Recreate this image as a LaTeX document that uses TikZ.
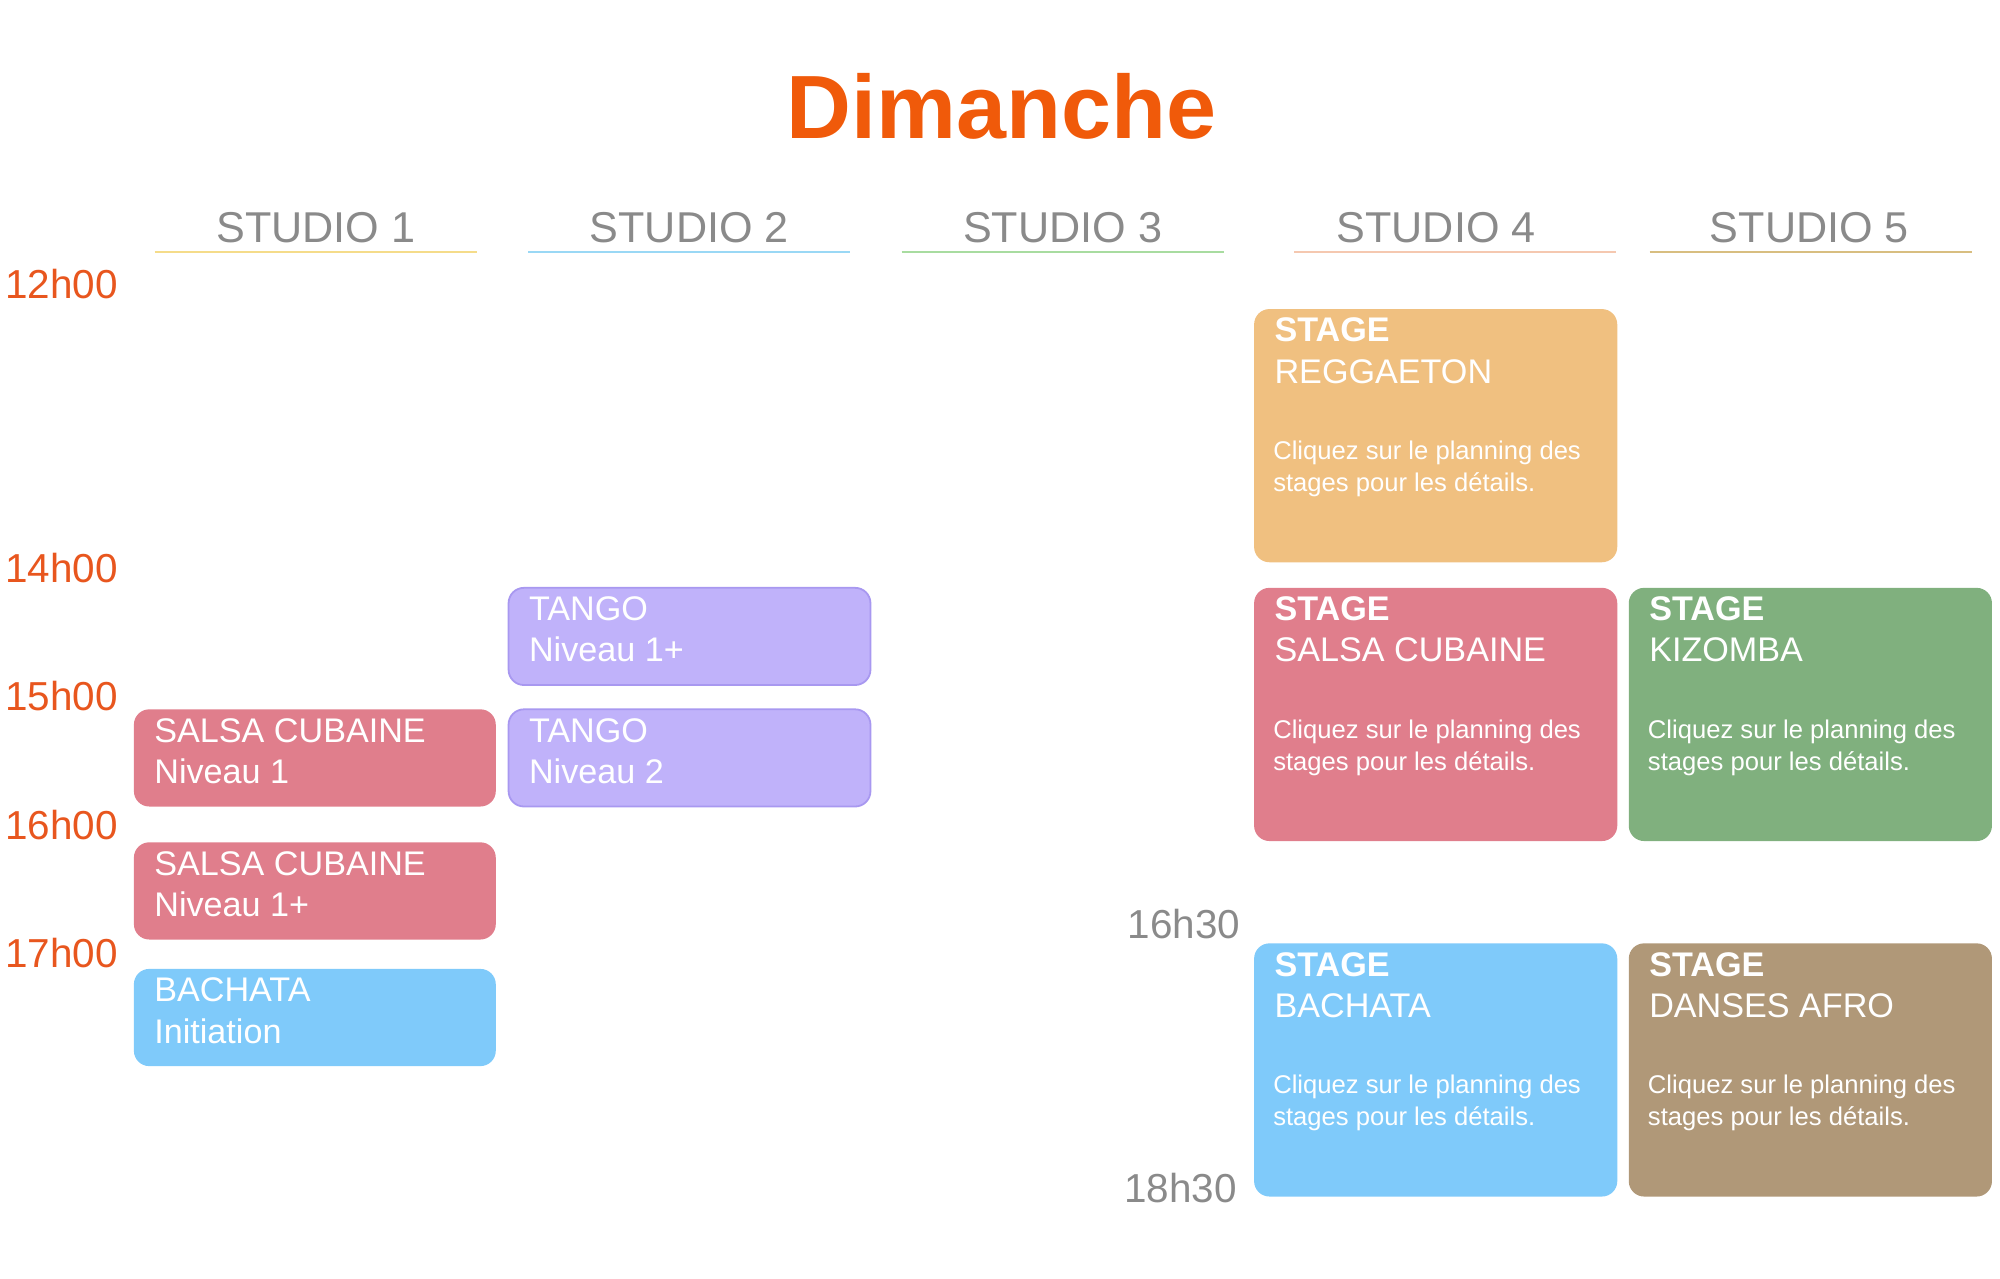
\documentclass[tikz,border=0pt]{standalone}
\usepackage{fontspec}
\setmainfont{Liberation Sans}
\usepackage{xcolor}
\usetikzlibrary{positioning}

\definecolor{titleorange}{HTML}{F05A0A}
\definecolor{hourorange}{HTML}{E8561E}
\definecolor{headgray}{HTML}{8A8A8A}
\definecolor{lineone}{HTML}{F5DC8A}
\definecolor{linetwo}{HTML}{9AD8F5}
\definecolor{linethree}{HTML}{A8DCA0}
\definecolor{linefour}{HTML}{F5C8B0}
\definecolor{linefive}{HTML}{D8BE80}
\definecolor{salsacol}{HTML}{E07E8C}
\definecolor{tangocol}{HTML}{C0B2FA}
\definecolor{tangoedge}{HTML}{A898F0}
\definecolor{bachatacol}{HTML}{7FCAFA}
\definecolor{reggaecol}{HTML}{F0C080}
\definecolor{kizcol}{HTML}{80B07E}
\definecolor{afrocol}{HTML}{B09878}

\begin{document}
\begin{tikzpicture}[
        x=1cm, y=1cm,
        studio/.style={text=headgray, font=\fontsize{9.6}{11}\selectfont},
        hour/.style={text=hourorange, font=\fontsize{9}{11}\selectfont},
        endhour/.style={text=headgray, font=\fontsize{9}{11}\selectfont},
        slot/.style={rectangle, rounded corners=0.12cm, anchor=north west, minimum width=2.83cm, minimum height=0.76cm, inner sep=0pt},
        stagebox/.style={rectangle, rounded corners=0.12cm, anchor=north west, minimum width=2.84cm, minimum height=1.98cm, inner sep=0pt},
        slottext/.style={anchor=north west, text=white, align=left, inner sep=0pt, font=\fontsize{7.6}{9.2}\selectfont},
        notetext/.style={anchor=north west, text=white, align=left, inner sep=0pt, font=\fontsize{5.7}{7.2}\selectfont}
    ]
        \useasboundingbox (0,0) rectangle (15.64,-10);

        % Title
        \node [text=titleorange, font=\bfseries\fontsize{20}{24}\selectfont] (title) at (7.83,-0.83) {Dimanche};

        % Studios
        \node [studio] (st1) at (2.47,-1.78) {STUDIO 1};
        \node [studio] (st2) at (5.39,-1.78) {STUDIO 2};
        \node [studio] (st3) at (8.31,-1.78) {STUDIO 3};
        \node [studio] (st4) at (11.23,-1.78) {STUDIO 4};
        \node [studio] (st5) at (14.15,-1.78) {STUDIO 5};
        \draw [lineone, line width=0.6pt] (1.21,-1.97) -- (3.73,-1.97);
        \draw [linetwo, line width=0.6pt] (4.13,-1.97) -- (6.65,-1.97);
        \draw [linethree, line width=0.6pt] (7.05,-1.97) -- (9.57,-1.97);
        \draw [linefour, line width=0.6pt] (10.12,-1.97) -- (12.64,-1.97);
        \draw [linefive, line width=0.6pt] (12.90,-1.97) -- (15.42,-1.97);

        % Hours
        \node [hour] (h12) at (0.48,-2.22) {12h00};
        \node [hour] (h14) at (0.48,-4.44) {14h00};
        \node [hour] (h15) at (0.48,-5.44) {15h00};
        \node [hour] (h16) at (0.48,-6.45) {16h00};
        \node [hour] (h17) at (0.48,-7.45) {17h00};
        \node [endhour] (h1630) at (9.26,-7.23) {16h30};
        \node [endhour] (h1830) at (9.23,-9.29) {18h30};

        % Studio 1
        \node [slot, fill=salsacol] (salsaone) at (1.04,-5.54) {};
        \node [slottext] (salsaonet) at ([shift={(0.16,-0.07)}]salsaone.north west) {SALSA CUBAINE\\Niveau 1};
        \node [slot, fill=salsacol] (salsaplus) at (1.04,-6.58) {};
        \node [slottext] (salsaplust) at ([shift={(0.16,-0.07)}]salsaplus.north west) {SALSA CUBAINE\\Niveau 1+};
        \node [slot, fill=bachatacol] (bachinit) at (1.04,-7.57) {};
        \node [slottext] (bachinitt) at ([shift={(0.16,-0.07)}]bachinit.north west) {BACHATA\\Initiation};

        % Studio 2
        \node [slot, fill=tangocol, draw=tangoedge] (tangoplus) at (3.97,-4.59) {};
        \node [slottext] (tangoplust) at ([shift={(0.16,-0.07)}]tangoplus.north west) {TANGO\\Niveau 1+};
        \node [slot, fill=tangocol, draw=tangoedge] (tangotwo) at (3.97,-5.54) {};
        \node [slottext] (tangotwot) at ([shift={(0.16,-0.07)}]tangotwo.north west) {TANGO\\Niveau 2};

        % Stages
        \node [stagebox, fill=reggaecol] (reggae) at (9.80,-2.41) {};
        \node [slottext] (reggaet) at ([shift={(0.16,-0.07)}]reggae.north west) {\textbf{STAGE}\\REGGAETON};
        \node [notetext] (reggaen) at ([shift={(0.15,-1.03)}]reggae.north west) {Cliquez sur le planning des\\stages pour les détails.};

        \node [stagebox, fill=salsacol] (salsastage) at (9.80,-4.59) {};
        \node [slottext] (salsastaget) at ([shift={(0.16,-0.07)}]salsastage.north west) {\textbf{STAGE}\\SALSA CUBAINE};
        \node [notetext] (salsastagen) at ([shift={(0.15,-1.03)}]salsastage.north west) {Cliquez sur le planning des\\stages pour les détails.};

        \node [stagebox, fill=kizcol] (kizomba) at (12.73,-4.59) {};
        \node [slottext] (kizombat) at ([shift={(0.16,-0.07)}]kizomba.north west) {\textbf{STAGE}\\KIZOMBA};
        \node [notetext] (kizomban) at ([shift={(0.15,-1.03)}]kizomba.north west) {Cliquez sur le planning des\\stages pour les détails.};

        \node [stagebox, fill=bachatacol] (bachstage) at (9.80,-7.37) {};
        \node [slottext] (bachstaget) at ([shift={(0.16,-0.07)}]bachstage.north west) {\textbf{STAGE}\\BACHATA};
        \node [notetext] (bachstagen) at ([shift={(0.15,-1.03)}]bachstage.north west) {Cliquez sur le planning des\\stages pour les détails.};

        \node [stagebox, fill=afrocol] (afro) at (12.73,-7.37) {};
        \node [slottext] (afrot) at ([shift={(0.16,-0.07)}]afro.north west) {\textbf{STAGE}\\DANSES AFRO};
        \node [notetext] (afron) at ([shift={(0.15,-1.03)}]afro.north west) {Cliquez sur le planning des\\stages pour les détails.};

    \end{tikzpicture}
\end{document}
